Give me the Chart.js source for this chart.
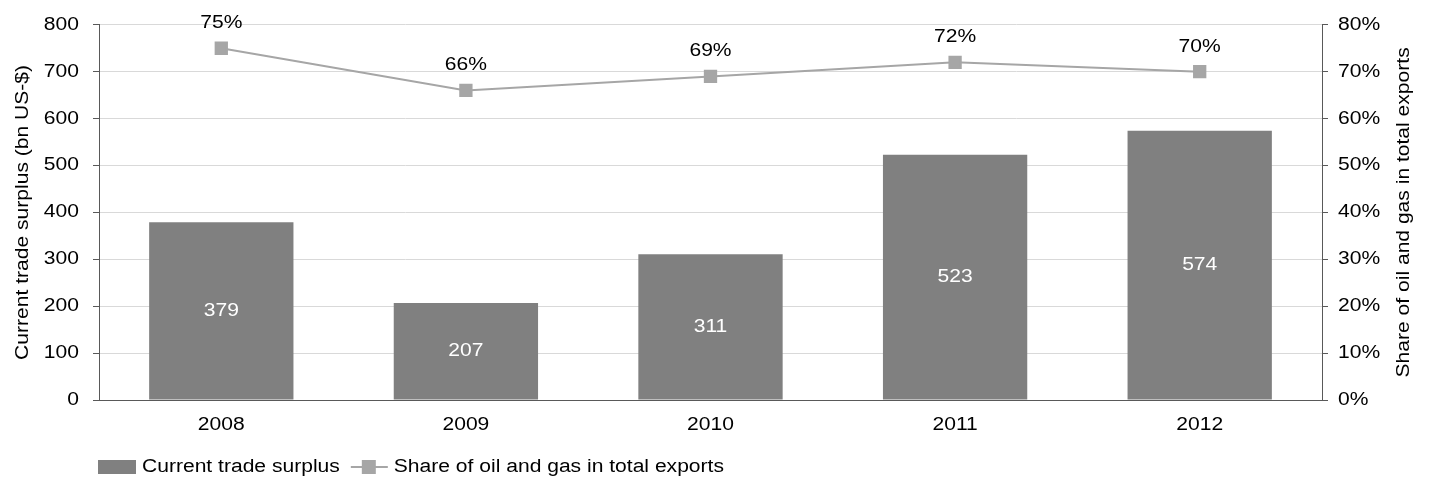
<!DOCTYPE html>
<html><head><meta charset="utf-8">
<script src="https://cdn.jsdelivr.net/npm/chart.js@4/dist/chart.umd.min.js"></script>
<style>
html,body{margin:0;padding:0;background:#fff;}
</style></head><body>
<canvas id="c" width="1431" height="479"></canvas>
<script>
const categories = ['2008','2009','2010','2011','2012'];
const surplus = [379, 207, 311, 523, 574];
const oilGasShare = [75, 66, 69, 72, 70];
const leftTicks = [0,100,200,300,400,500,600,700,800];
const rightTicks = [0,10,20,30,40,50,60,70,80];
const legendLabels = ['Current trade surplus', 'Share of oil and gas in total exports'];
const leftTitle = 'Current trade surplus (bn US-$)';
const rightTitle = 'Share of oil and gas in total exports';

// widen text horizontally to match the reference's wide glyph rendering
const SX = 1.17;
const P = CanvasRenderingContext2D.prototype;
const origFill = P.fillText, origMeasure = P.measureText;
P.fillText = function(text, x, y) {
  this.save(); this.translate(x, y); this.scale(SX, 1);
  origFill.call(this, text, 0, 0);
  this.restore();
};
P.measureText = function(text) {
  const m = origMeasure.call(this, text);
  return {width: m.width * SX,
    actualBoundingBoxAscent: m.actualBoundingBoxAscent,
    actualBoundingBoxDescent: m.actualBoundingBoxDescent,
    actualBoundingBoxLeft: m.actualBoundingBoxLeft * SX,
    actualBoundingBoxRight: m.actualBoundingBoxRight * SX};
};

const FONT = '"Liberation Sans", Arial, sans-serif';
const FS = 18;
const labelPlugin = {
  id: 'labels',
  afterDatasetsDraw(chart) {
    const ctx = chart.ctx;
    ctx.save();
    ctx.font = FS + 'px ' + FONT;
    ctx.textAlign = 'center';
    ctx.textBaseline = 'middle';
    chart.getDatasetMeta(0).data.forEach((el, i) => {
      ctx.fillStyle = '#ffffff';
      ctx.fillText(String(surplus[i]), el.x, (el.y + el.base) / 2);
    });
    chart.getDatasetMeta(1).data.forEach((el, i) => {
      ctx.fillStyle = '#000000';
      ctx.fillText(oilGasShare[i] + '%', el.x, el.y - 25);
    });
    ctx.restore();
  },
  afterDraw(chart) {
    const ctx = chart.ctx;
    const ca = chart.chartArea;
    ctx.save();
    ctx.font = FS + 'px ' + FONT;
    // right axis title, reading bottom-to-top
    ctx.save();
    ctx.translate(ca.right + 82, (ca.top + ca.bottom) / 2);
    ctx.rotate(-Math.PI / 2);
    ctx.textAlign = 'center';
    ctx.textBaseline = 'middle';
    ctx.fillStyle = '#000';
    ctx.fillText(rightTitle, 0, 0);
    ctx.restore();
    // legend
    const cy = 467;
    ctx.textAlign = 'left';
    ctx.textBaseline = 'middle';
    ctx.fillStyle = '#808080';
    ctx.fillRect(98, cy - 7, 38, 14);
    ctx.fillStyle = '#000';
    ctx.fillText(legendLabels[0], 142, cy);
    const w = ctx.measureText(legendLabels[0]).width;
    const lx = 142 + w + 11;
    ctx.strokeStyle = '#a6a6a6'; ctx.lineWidth = 2;
    ctx.beginPath(); ctx.moveTo(lx, cy); ctx.lineTo(lx + 37, cy); ctx.stroke();
    ctx.fillStyle = '#a6a6a6';
    ctx.fillRect(lx + 11, cy - 7, 14, 14);
    ctx.fillStyle = '#000';
    ctx.fillText(legendLabels[1], lx + 43, cy);
    ctx.restore();
  }
};

new Chart(document.getElementById('c'), {
  data: {
    labels: categories,
    datasets: [
      {type:'bar', label:legendLabels[0], data: surplus, backgroundColor:'#808080', yAxisID:'y', categoryPercentage:1, barPercentage:0.59, order:2},
      {type:'line', label:legendLabels[1], data: oilGasShare, borderColor:'#a6a6a6', backgroundColor:'#a6a6a6', borderWidth:2, pointStyle:'rect', pointRadius:8, pointHoverRadius:8, yAxisID:'y1', order:1}
    ]
  },
  options: {
    responsive:false, animation:false,
    layout:{padding:{top:23,left:0,right:0,bottom:0}},
    plugins:{legend:{display:false}, tooltip:{enabled:false}},
    scales:{
      x:{
        grid:{display:false, drawTicks:false},
        border:{color:'#595959', width:1},
        ticks:{font:{size:FS,family:FONT}, color:'#000', padding:14, maxRotation:0},
        afterFit(s){ s.height = 79; }
      },
      y:{
        position:'left', min:0, max:800,
        afterBuildTicks(s){ s.ticks = leftTicks.map(v=>({value:v})); },
        grid:{color:'#d9d9d9', tickColor:'#595959', tickLength:6},
        border:{color:'#595959', width:1},
        ticks:{font:{size:FS,family:FONT}, color:'#000', padding:14},
        title:{display:true, text:leftTitle, font:{size:FS,family:FONT}, color:'#000', padding:{top:12,bottom:0}},
        afterFit(s){ s.width = 99; }
      },
      y1:{
        position:'right', min:0, max:80,
        afterBuildTicks(s){ s.ticks = rightTicks.map(v=>({value:v})); },
        grid:{drawOnChartArea:false, tickColor:'#595959', tickLength:6},
        border:{color:'#595959', width:1},
        ticks:{font:{size:FS,family:FONT}, color:'#000', padding:10, callback:v=>v+'%'},
        afterFit(s){ s.width = 109; }
      }
    }
  },
  plugins:[labelPlugin]
});
</script>
</body></html>
